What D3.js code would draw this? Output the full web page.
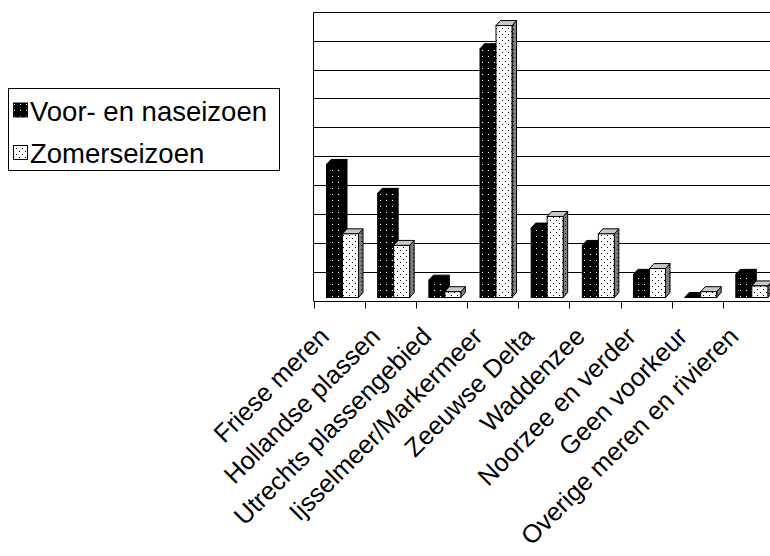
<!DOCTYPE html>
<html>
<head>
<meta charset="utf-8">
<script src="https://cdn.jsdelivr.net/npm/d3@7"></script>
<style>
  html, body { margin: 0; padding: 0; background: #fff; }
  svg { display: block; font-family: "Liberation Sans", Arial, sans-serif; }
</style>
</head>
<body>
<svg id="chart" width="770" height="556"></svg>
<script>
// Preferred sailing area per season
const categories = [
  "Friese meren", "Hollandse plassen", "Utrechts plassengebied",
  "Ijsselmeer/Markermeer", "Zeeuwse Delta", "Waddenzee",
  "Noorzee en verder", "Geen voorkeur", "Overige meren en rivieren"
];
const seriesNames = ["Voor- en naseizoen", "Zomerseizoen"];
const voorNaseizoen = [23, 18, 3, 43, 12, 9, 4, 0, 4];
const zomerseizoen  = [11, 9, 1, 47, 14, 11, 5, 1, 2];
const gridValues = [5, 10, 15, 20, 25, 30, 35, 40, 45, 50];

const svg = d3.select("#chart");

// Patterns: dotted black and dotted white fills
const defs = svg.append("defs");
function dotPattern(id, bg, dot, size, dots) {
  const p = defs.append("pattern").attr("id", id)
    .attr("patternUnits", "userSpaceOnUse").attr("width", size).attr("height", size);
  p.append("rect").attr("width", size).attr("height", size).attr("fill", bg);
  dots.forEach(([px, py]) => p.append("rect").attr("x", px).attr("y", py)
    .attr("width", 1).attr("height", 1).attr("fill", dot));
}
dotPattern("dotBlack", "#000", "#fff", 6, [[2, 2]]);
dotPattern("dotWhite", "#fff", "#000", 6, [[1, 1], [4, 4]]);
dotPattern("dotGray", "#808080", "#000", 4, [[1, 1]]);

const plotLeft = 313.5, plotRight = 774, plotTop = 11.7, plotBottom = 301;
const x = d3.scaleBand().domain(categories).range([plotLeft, plotRight]).padding(0);
const y = d3.scaleLinear().domain([0, 50]).range([plotBottom, plotTop]);

// Back wall gridlines
svg.append("g").selectAll("line").data(gridValues).join("line")
  .attr("x1", plotLeft).attr("x2", 770)
  .attr("y1", d => Math.round(y(d)) + 0.5).attr("y2", d => Math.round(y(d)) + 0.5)
  .attr("stroke", "#000").attr("stroke-width", 1);

// Left wall edge
svg.append("line")
  .attr("x1", plotLeft).attr("x2", plotLeft)
  .attr("y1", Math.round(plotTop) + 0.5).attr("y2", plotBottom)
  .attr("stroke", "#000");

// Category axis with ticks between categories
const axisY = Math.round(plotBottom) + 0.5;
svg.append("line").attr("x1", plotLeft).attr("x2", 770)
  .attr("y1", axisY).attr("y2", axisY).attr("stroke", "#000");
const tickXs = categories.map(c => x(c)).concat([x(categories[categories.length - 1]) + x.bandwidth()]);
svg.append("g").selectAll("line").data(tickXs).join("line")
  .attr("x1", d => Math.round(d) + 0.5).attr("x2", d => Math.round(d) + 0.5)
  .attr("y1", axisY).attr("y2", axisY + 7)
  .attr("stroke", "#000");

// 3D columns
const dx = 4.5, dy = 5, barW = 16, lift = 3.5;
function drawBar(g, x0, v, front, topFill, sideFill) {
  const yTop = y(v) - lift, yBot = y(0) - lift;
  g.append("polygon")
    .attr("points", [[x0 + barW, yTop], [x0 + barW + dx, yTop - dy], [x0 + barW + dx, yBot - dy], [x0 + barW, yBot]].join(" "))
    .attr("fill", sideFill).attr("stroke", "#000").attr("stroke-width", 1).attr("stroke-linejoin", "round");
  g.append("polygon")
    .attr("points", [[x0, yTop], [x0 + dx, yTop - dy], [x0 + barW + dx, yTop - dy], [x0 + barW, yTop]].join(" "))
    .attr("fill", topFill).attr("stroke", "#000").attr("stroke-width", 1).attr("stroke-linejoin", "round");
  g.append("rect")
    .attr("x", x0).attr("y", yTop).attr("width", barW).attr("height", Math.max(0, yBot - yTop))
    .attr("fill", front).attr("stroke", "#000").attr("stroke-width", 1);
}
const bars = svg.append("g");
categories.forEach((c, i) => {
  const b = x(c);
  drawBar(bars, b + 13, voorNaseizoen[i], "url(#dotBlack)", "#000", "#000");
  drawBar(bars, b + 29, zomerseizoen[i], "url(#dotWhite)", "#c8c8c8", "url(#dotGray)");
});

// Rotated category labels
svg.append("g").selectAll("text").data(categories).join("text")
  .attr("transform", d => `translate(${x(d) + x.bandwidth() / 2 - 8.5},${338}) rotate(-45)`)
  .attr("text-anchor", "end")
  .attr("font-size", 25.5)
  .attr("fill", "#000")
  .text(d => d);

// Legend
const legend = svg.append("g");
legend.append("rect").attr("x", 8.5).attr("y", 88.5).attr("width", 271).attr("height", 82)
  .attr("fill", "#fff").attr("stroke", "#000");
const legendFills = ["url(#dotBlack)", "url(#dotWhite)"];
seriesNames.forEach((name, i) => {
  const cy = 110.5 + i * 42.5;
  legend.append("rect").attr("x", 13.5).attr("y", cy - 7.5).attr("width", 14).attr("height", 14)
    .attr("fill", legendFills[i]).attr("stroke", "#000");
  legend.append("text").attr("x", 30).attr("y", cy + 10)
    .attr("font-size", 27.5).attr("fill", "#000").text(name);
});
</script>
</body>
</html>
